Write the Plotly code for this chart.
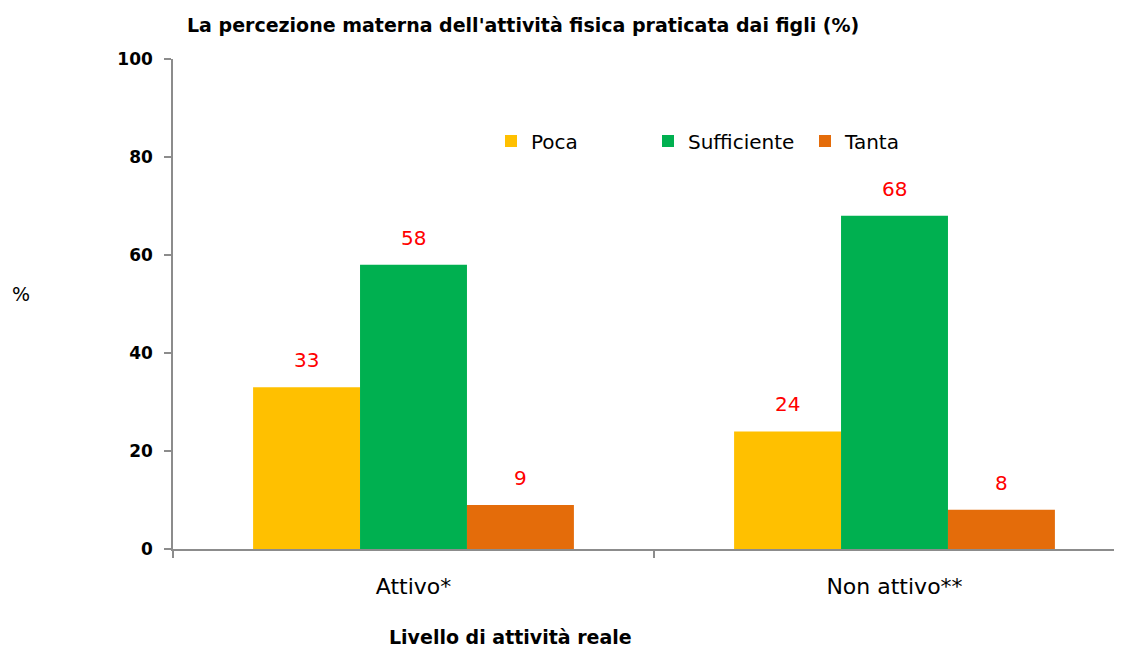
import plotly.graph_objects as go

categories = ["Attivo*", "Non attivo**"]
series_names = ["Poca", "Sufficiente", "Tanta"]
poca = [33, 24]
sufficiente = [58, 68]
tanta = [9, 8]
y_ticks = [0, 20, 40, 60, 80, 100]

colors = ["#FFC000", "#00B050", "#E46C0A"]
FONT = "DejaVu Sans"

fig = go.Figure()
for name, vals, col in zip(series_names, [poca, sufficiente, tanta], colors):
    fig.add_trace(go.Bar(
        x=categories, y=vals, name=name,
        marker=dict(color=col, line=dict(width=0)),
    ))

# red value labels above bars
bar_px = 107
for i, vals in enumerate([poca, sufficiente, tanta]):
    for cat, v in zip(categories, vals):
        fig.add_annotation(
            x=cat, y=v, text=str(v), showarrow=False,
            xshift=(i - 1) * bar_px, yshift=27,
            font=dict(family=FONT, size=20, color="#FF0000"),
        )

fig.add_annotation(
    text="La percezione materna dell'attività fisica praticata dai figli (%)",
    xref="paper", yref="paper", x=(185 - 173) / 949, y=1.07,
    xanchor="left", yanchor="middle", showarrow=False,
    font=dict(family=FONT, size=19, color="#000000", weight="bold"),
)
fig.add_annotation(
    text="%", xref="paper", yref="paper", x=-0.16, y=0.52,
    xanchor="center", yanchor="middle", showarrow=False,
    font=dict(family=FONT, size=19, color="#000000"),
)
fig.add_annotation(
    text="Livello di attività reale", xref="paper", yref="paper",
    x=(510 - 173) / 949, y=-0.18, xanchor="center", yanchor="middle",
    showarrow=False,
    font=dict(family=FONT, size=19, color="#000000", weight="bold"),
)

# page body has an 8px margin, so the figure is 8px smaller on each axis
fig.update_layout(
    width=1114, height=640,
    margin=dict(l=165, r=0, t=51, b=99),
    paper_bgcolor="white", plot_bgcolor="white",
    barmode="group", bargap=0.333, bargroupgap=0,
    font=dict(family=FONT, color="#000000"),
    legend=dict(
        orientation="h", x=(491 - 173) / 949, y=(549 - 141) / 490,
        xanchor="left", yanchor="middle",
        font=dict(family=FONT, size=20),
        entrywidth=112, entrywidthmode="pixels",
        bgcolor="rgba(0,0,0,0)",
    ),
    xaxis=dict(
        type="category", range=[-0.5, 1.5 - 13 / 481],
        showline=True, linecolor="#8C8C8C", linewidth=1.5,
        ticks="outside", tickson="boundaries", ticklen=7,
        tickcolor="#8C8C8C", tickwidth=1.5,
        ticklabelstandoff=17,
        tickfont=dict(family=FONT, size=22),
        showgrid=False, zeroline=False,
    ),
    yaxis=dict(
        range=[0, 100], tickvals=y_ticks,
        showline=True, linecolor="#8C8C8C", linewidth=1.5,
        ticks="outside", ticklen=7, tickcolor="#8C8C8C", tickwidth=1.5,
        ticklabelstandoff=8,
        tickfont=dict(family=FONT, size=17, weight="bold"),
        showgrid=False, zeroline=False,
    ),
)

fig.write_html("out.html")
